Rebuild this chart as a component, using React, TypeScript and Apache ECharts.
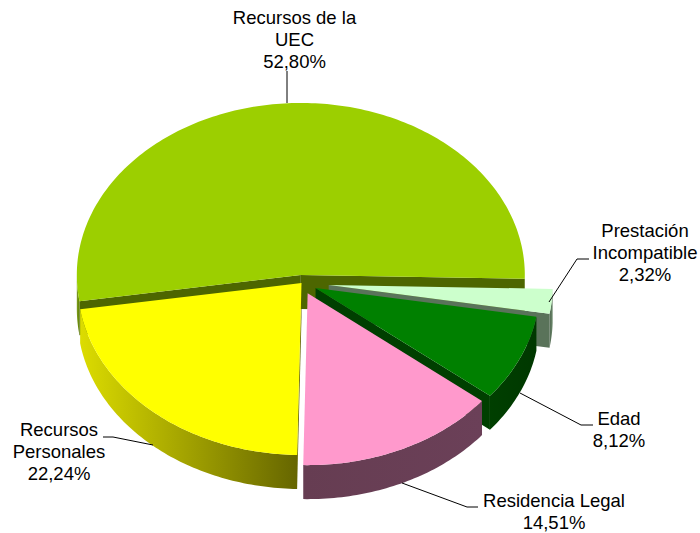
import React, { useEffect, useRef } from "react";
import * as echarts from "echarts";

const categories = ["Recursos de la\nUEC", "Prestación\nIncompatible", "Edad", "Residencia Legal", "Recursos\nPersonales"];
const values = [52.8, 2.32, 8.12, 14.51, 22.24];
const valueLabels = ["52,80%", "2,32%", "8,12%", "14,51%", "22,24%"];

const topColors = ["#9ccf00", "#ccffcc", "#008000", "#ff99cc", "#ffff00"];
const cutColors = ["#4d6600", "#5a735a", "#003f00", "#663d52", "#666600"];
const rimStart = ["#7f9f20", "#4f664f", "#003f00", "#663d52", "#dcdc00"];
const rimEnd = ["#5f8000", "#6d8a6d", "#003800", "#6b4058", "#666600"];
const explode = [0.047, 0.122, 0.069, 0.065, 0];
const labelPos = [[294.5, 6], [645, 219], [619, 407.5], [554, 489.5], [59, 418]];
const leaders = [
  [[287, 103], [287, 71]],
  [[549, 302], [577, 259], [589, 259]],
  [[520, 393], [581, 425], [593, 425]],
  [[402, 483], [467, 507], [478, 507]],
  [[153, 445], [113, 437], [103, 437]],
];

const CX = 301.5, CY = 283, RX = 224, RY = 172, DEPTH = 34;
const START_DEG = 171.2;

const total = values.reduce((a, b) => a + b, 0);
const rad = (d: number) => (d * Math.PI) / 180;

function arc(ax: number, ay: number, a: number, b: number, dy = 0) {
  const pts: number[][] = [];
  const n = Math.max(2, Math.ceil(Math.abs(b - a) / 1));
  for (let i = 0; i <= n; i++) {
    const t = rad(a + ((b - a) * i) / n);
    pts.push([ax + RX * Math.cos(t), ay + RY * Math.sin(t) + dy]);
  }
  return pts;
}

function renderItem(params: any, api: any) {
  const i = params.dataIndex;
  const before = values.slice(0, i).reduce((s, v) => s + v, 0);
  const a = START_DEG + (before / total) * 360;
  const b = a + (api.value(0) / total) * 360;
  const mid = rad((a + b) / 2);
  const ax = CX + explode[i] * RX * Math.cos(mid);
  const ay = CY + explode[i] * RY * Math.sin(mid);
  const children: any[] = [];

  const quad = (t: number) => {
    const p = [ax + RX * Math.cos(rad(t)), ay + RY * Math.sin(rad(t))];
    children.push({
      type: "polygon",
      shape: { points: [[ax, ay], p, [p[0], p[1] + DEPTH], [ax, ay + DEPTH]] },
      style: { fill: cutColors[i] },
    });
  };
  if (Math.cos(rad(a)) < 0) quad(a);
  if (Math.cos(rad(b)) > 0) quad(b);

  for (const [lo, hi] of [[0, 180], [360, 540]]) {
    const s = Math.max(a, lo), e = Math.min(b, hi);
    if (e > s) {
      const top = arc(ax, ay, s, e);
      const bottom = arc(ax, ay, e, s, DEPTH);
      children.push({
        type: "polygon",
        shape: { points: top.concat(bottom) },
        style: {
          fill: new echarts.graphic.LinearGradient(0, 0, 1, 0, [
            { offset: 0, color: rimStart[i] },
            { offset: 1, color: rimEnd[i] },
          ]),
        },
      });
    }
  }

  children.push({
    type: "polygon",
    shape: { points: [[ax, ay], ...arc(ax, ay, a, b)] },
    style: { fill: topColors[i] },
  });

  children.push({
    type: "polyline",
    shape: { points: leaders[i] },
    style: { stroke: "#000000", lineWidth: 1, fill: "none" },
  });
  children.push({
    type: "text",
    x: labelPos[i][0],
    y: labelPos[i][1],
    style: {
      text: categories[i] + "\n" + valueLabels[i],
      fill: "#000000",
      fontSize: 18.5,
      fontFamily: '"Liberation Sans", Arial, sans-serif',
      align: "center",
      verticalAlign: "top",
      lineHeight: 22,
    },
  });
  return { type: "group", children };
}

export default function App() {
  const ref = useRef<HTMLDivElement>(null);
  useEffect(() => {
    const chart = echarts.init(ref.current!, undefined, { renderer: "svg" });
    chart.setOption({
      animation: false,
      backgroundColor: "#ffffff",
      series: [
        {
          type: "custom",
          coordinateSystem: "none",
          renderItem,
          data: values.map((v, i) => ({ name: categories[i].replace("\n", " "), value: [v] })),
          silent: true,
        },
      ],
    });
    return () => chart.dispose();
  }, []);
  return <div ref={ref} style={{ position: "absolute", left: 0, top: 0, width: 700, height: 533 }} />;
}
